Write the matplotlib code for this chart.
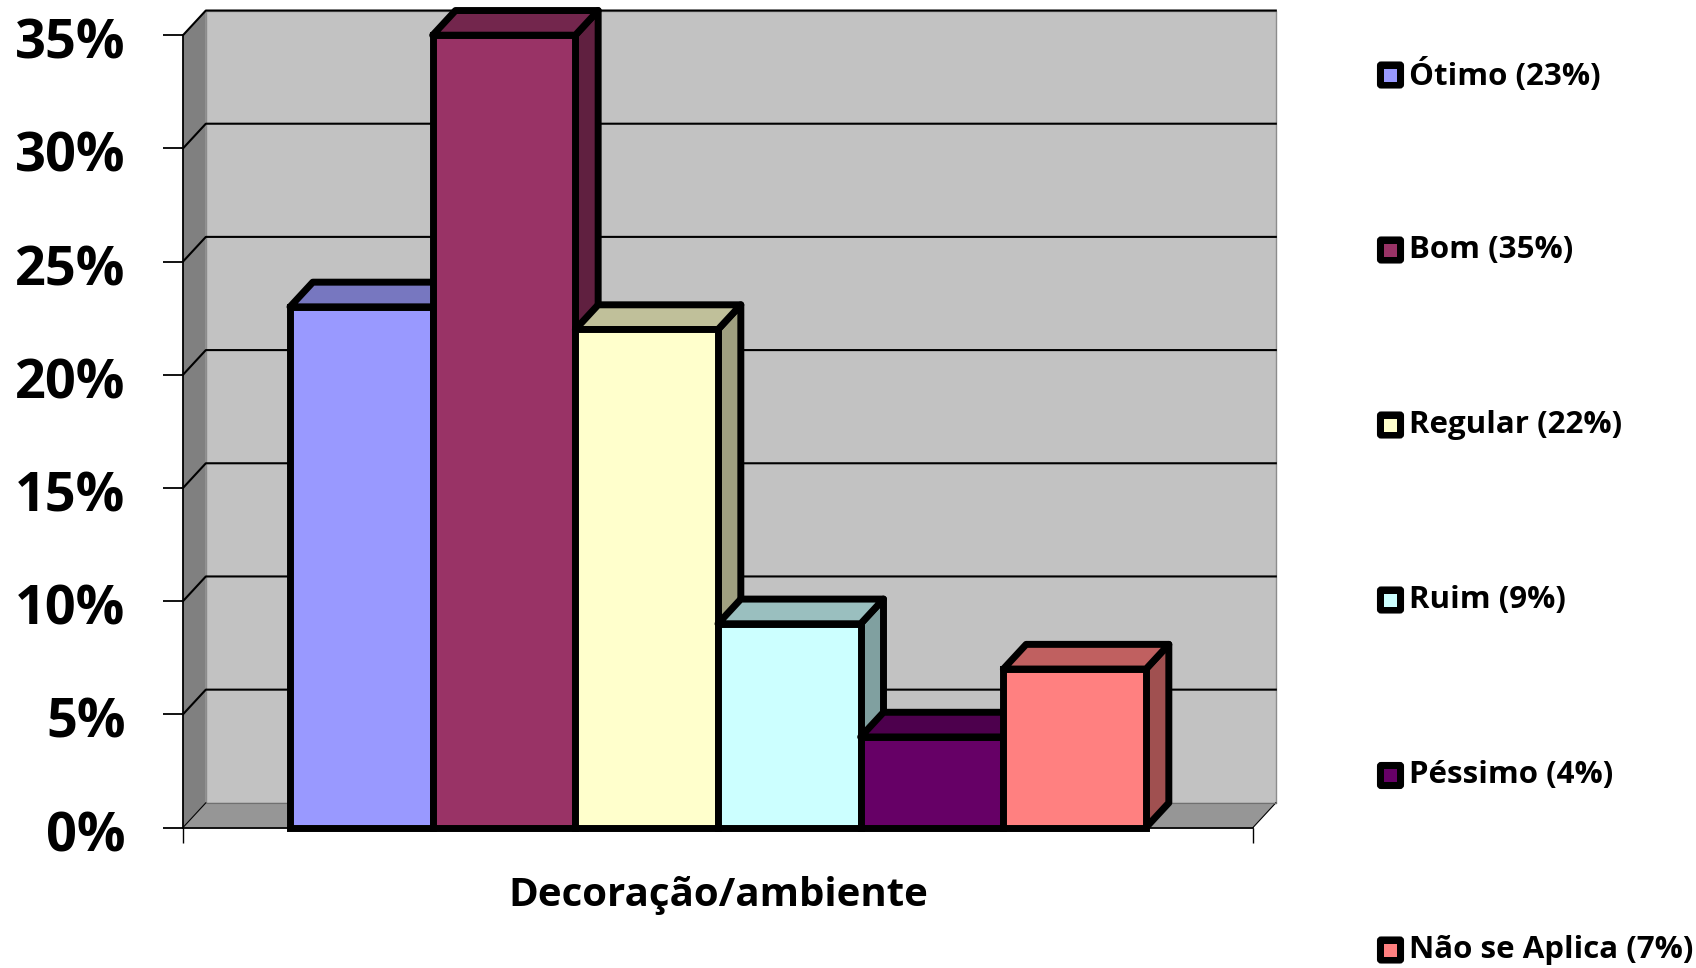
import matplotlib
matplotlib.use('Agg')
import matplotlib.pyplot as plt
from matplotlib.patches import Polygon, FancyBboxPatch, Rectangle
from matplotlib.transforms import ScaledTranslation

# DATOS
categorias = ['Ótimo', 'Bom', 'Regular', 'Ruim', 'Péssimo', 'Não se Aplica']
valores = [23, 35, 22, 9, 4, 7]
colores = ['#9999FF', '#993366', '#FFFFCC', '#CCFFFF', '#660066', '#FF8080']
colores_top = ['#7777C0', '#73264D', '#C0C09A', '#9ABFBF', '#4D004D', '#C06060']
colores_lado = ['#606099', '#602040', '#A0A080', '#80A0A0', '#400040', '#A05050']
grupo = 'Decoração/ambiente'
yticks = [0, 5, 10, 15, 20, 25, 30, 35]
yticklabels = ['0%', '5%', '10%', '15%', '20%', '25%', '30%', '35%']

W, H = 1696, 968
FUENTE = 'Open Sans'
LW = 5

# profundidad 3D en unidades de datos
dx = 0.16
dy = 1.09
x0, x1 = -1.25, 6.25
ymax = 35

fig = plt.figure(figsize=(W/100, H/100), dpi=100, facecolor='white')
ax = fig.add_axes([183/W, (H-827.5)/H, 1070/W, 792.3/H])
ax.set_xlim(x0, x1)
ax.set_ylim(0, ymax)
ax.patch.set_visible(False)


def poly(pts, color, lw=0, ec='black', z=1):
    ax.add_patch(Polygon(pts, closed=True, facecolor=color, edgecolor=ec, linewidth=lw,
                         clip_on=False, zorder=z, joinstyle='round'))


# paredes
poly([(x0+dx, dy), (x1+dx, dy), (x1+dx, ymax+dy), (x0+dx, ymax+dy)], '#C2C2C2', 1, '#8C8C8C')
poly([(x0, 0), (x0+dx, dy), (x0+dx, ymax+dy), (x0, ymax)], '#808080', 0)
poly([(x0, 0), (x1, 0), (x1+dx, dy), (x0+dx, dy)], '#969696', 0)

# rejilla
for t in yticks[1:]:
    ax.plot([x0, x0+dx, x1+dx], [t, t+dy, t+dy], color='black', lw=1.5, clip_on=False, zorder=2)
ax.plot([x0, x0+dx], [0, dy], color='black', lw=0.8, zorder=2, clip_on=False)
ax.plot([x1, x1+dx], [0, dy], color='black', lw=0.8, zorder=2, clip_on=False)
ax.plot([x0+dx, x1+dx], [dy, dy], color='#707070', lw=0.8, zorder=2, clip_on=False)

# barras
for i in range(0, len(valores), 1):
    v = valores[i]
    a = i-0.5
    b = i+0.5
    z = 3+i
    poly([(b, 0), (b+dx, dy), (b+dx, v+dy), (b, v)], colores_lado[i], LW, z=z)
    poly([(a, v), (a+dx, v+dy), (b+dx, v+dy), (b, v)], colores_top[i], LW, z=z)
    ax.bar(i, v, width=1, color=colores[i], edgecolor='black', linewidth=LW,
           zorder=z, clip_on=False)

# ejes
for s in ['top', 'right']:
    ax.spines[s].set_visible(False)
for s in ['left', 'bottom']:
    ax.spines[s].set_linewidth(1.3)
    ax.spines[s].set_zorder(2.5)
ax.set_yticks(yticks)
ax.set_yticklabels(yticklabels, fontsize=39, fontweight='bold', family=FUENTE)
ax.tick_params(axis='y', length=14.4, width=1.3, pad=27)
bajar = ScaledTranslation(0, -3/100, fig.dpi_scale_trans)
for lab in ax.get_yticklabels():
    lab.set_transform(lab.get_transform()+bajar)
ax.set_xticks([x0, x1])
ax.set_xticklabels(['', ''])
ax.tick_params(axis='x', length=11, width=1.0)
ax.text((x0+x1)/2, -3.0, grupo, ha='center', va='center', fontsize=29,
        fontweight='bold', family=FUENTE)

# leyenda
lg = fig.add_axes([0, 0, 1, 1])
lg.set_xlim(0, W)
lg.set_ylim(H, 0)
lg.axis('off')
lg.patch.set_visible(False)
ly = [75, 250, 425, 600, 775.5, 950]
for i in range(0, len(valores), 1):
    yc = ly[i]
    lg.add_patch(FancyBboxPatch((1378, yc-12.5), 25, 25, boxstyle='round,pad=0,rounding_size=3',
                                mutation_aspect=1, facecolor='black', edgecolor='black', linewidth=1.5))
    lg.add_patch(Rectangle((1384, yc-6.5), 13, 13, facecolor=colores[i], edgecolor='none'))
    lg.text(1409, yc, '%s (%d%%)' % (categorias[i], valores[i]), ha='left', va='center',
            fontsize=22.5, fontweight='bold', family=FUENTE)

fig.savefig('out.png', dpi=100, facecolor='white')
